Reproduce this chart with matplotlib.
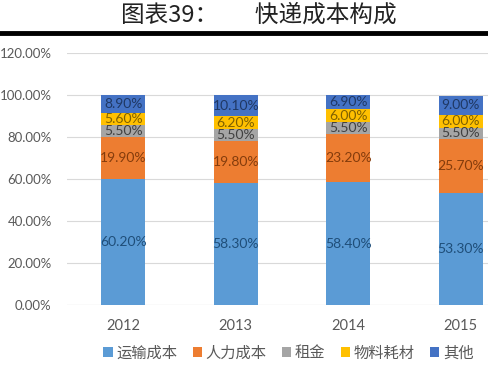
import matplotlib
matplotlib.use("Agg")
import matplotlib.pyplot as plt
import numpy as np

plt.rcParams['font.family'] = ['Noto Sans CJK SC', 'DejaVu Sans']

years = ['2012', '2013', '2014', '2015']
series_names = ['运输成本', '人力成本', '租金', '物料耗材', '其他']
transport = [60.2, 58.3, 58.4, 53.3]
labor = [19.9, 19.8, 23.2, 25.7]
rent = [5.5, 5.5, 5.5, 5.5]
material = [5.6, 6.2, 6.0, 6.0]
other = [8.9, 10.1, 6.9, 9.0]
yticks = [0, 20, 40, 60, 80, 100, 120]

series = [transport, labor, rent, material, other]
colors = ['#5B9BD5', '#ED7D31', '#A5A5A5', '#FFC000', '#4472C4']
text_colors = ['#1F4E79', '#843C0C', '#404040', '#7F6000', '#1F3864']

fig = plt.figure(figsize=(4.89, 3.68), dpi=100)
ax = fig.add_axes([67/489, 1-305/368, 450/489, (305-53)/368])

x = np.arange(len(years))
bottom = np.zeros(len(years))
handles = []
for vals, c, tc, name in zip(series, colors, text_colors, series_names):
    v = np.array(vals)
    b = ax.bar(x, v, 0.39, bottom=bottom, color=c, label=name, zorder=3)
    handles.append(b)
    for xi, vi, bi in zip(x, v, bottom):
        ax.text(xi, bi + vi/2, f'{vi:.2f}%', ha='center', va='center',
                fontsize=10, color=tc, zorder=4, family=['Lato', 'DejaVu Sans'])
    bottom += v

ax.set_xlim(-0.5, 3.5)
ax.set_ylim(0, 120)
ax.set_yticks(yticks)
ax.set_yticklabels([f'{t:.2f}%' for t in yticks], fontsize=9.5, color='#595959',
                   family=['Lato', 'DejaVu Sans'])
ax.set_xticks(x)
ax.set_xticklabels(years, fontsize=10.5, color='#595959', family=['Lato', 'DejaVu Sans'])
ax.tick_params(axis='y', length=0, pad=11)
ax.tick_params(axis='x', length=0, pad=10)
ax.grid(axis='y', color='#D9D9D9', linewidth=0.8, zorder=0)
for s in ax.spines.values():
    s.set_visible(False)
ax.axhline(0, color='#D9D9D9', linewidth=0.8, zorder=2)

fig.text(0.53, 1-15/368, '图表39：       快递成本构成', ha='center', va='center',
         fontsize=17, color='#222222')
fig.add_artist(plt.Line2D([0, 1], [1-33/368, 1-33/368], color='black', linewidth=3.5))

fig.legend(handles=handles, labels=series_names, loc='center',
           bbox_to_anchor=(0.59, 1-353/368), ncol=5, frameon=False,
           fontsize=11, handlelength=0.6, handleheight=0.6, handletextpad=0.25,
           columnspacing=1.0, labelcolor='#595959')

fig.savefig('out.png', dpi=100)
